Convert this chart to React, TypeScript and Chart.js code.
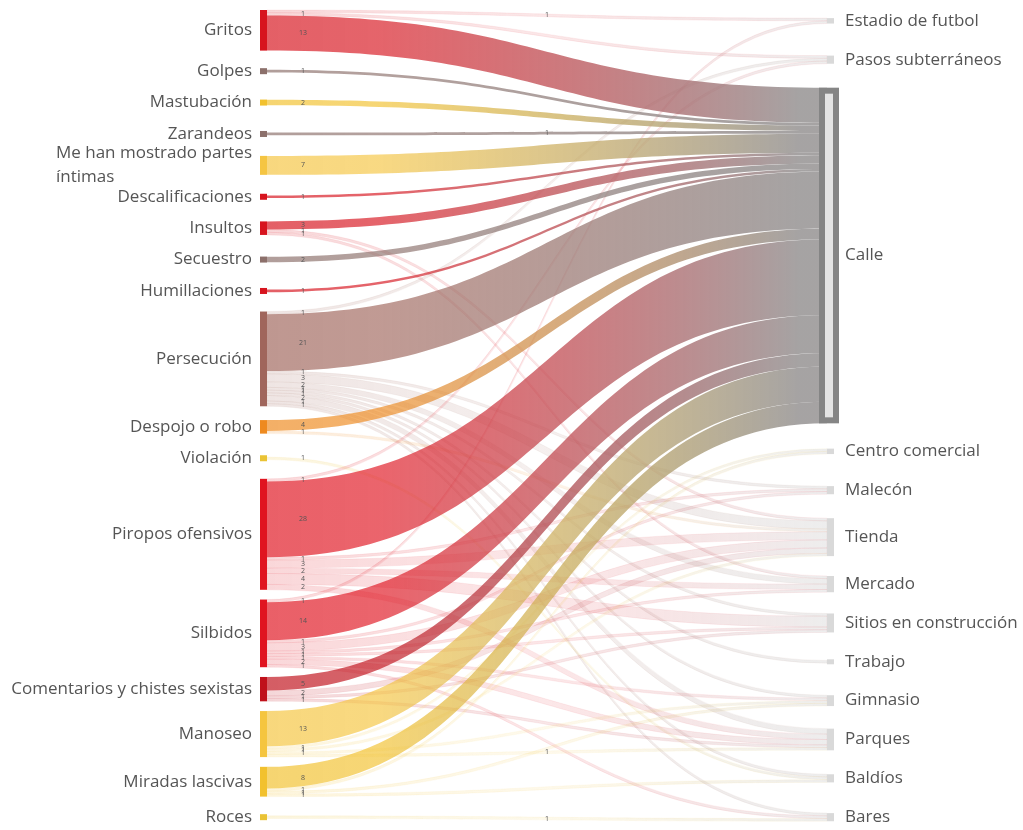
import { useEffect, useRef } from "react";
import { Chart, registerables } from "chart.js";
Chart.register(...registerables);

const ME_HAN = "Me han mostrado partes\níntimas";
const COMENT = "Comentarios y chistes sexistas";

const sourceLabels = [
  "Gritos", "Golpes", "Mastubación", "Zarandeos", ME_HAN, "Descalificaciones",
  "Insultos", "Secuestro", "Humillaciones", "Persecución", "Despojo o robo",
  "Violación", "Piropos ofensivos", "Silbidos", COMENT, "Manoseo",
  "Miradas lascivas", "Roces",
];

const targetLabels = [
  "Estadio de futbol", "Pasos subterráneos", "Calle", "Centro comercial", "Malecón",
  "Tienda", "Mercado", "Sitios en construcción", "Trabajo", "Gimnasio", "Parques",
  "Baldíos", "Bares",
];

const flowSource = [
  "Gritos", "Gritos", "Gritos",
  "Golpes", "Mastubación", "Zarandeos", ME_HAN, "Descalificaciones",
  "Insultos", "Insultos", "Insultos",
  "Secuestro", "Humillaciones",
  "Persecución", "Persecución", "Persecución", "Persecución", "Persecución", "Persecución",
  "Persecución", "Persecución", "Persecución", "Persecución", "Persecución",
  "Despojo o robo", "Despojo o robo",
  "Violación",
  "Piropos ofensivos", "Piropos ofensivos", "Piropos ofensivos", "Piropos ofensivos",
  "Piropos ofensivos", "Piropos ofensivos", "Piropos ofensivos",
  "Silbidos", "Silbidos", "Silbidos", "Silbidos", "Silbidos", "Silbidos", "Silbidos",
  "Silbidos", "Silbidos",
  COMENT, COMENT, COMENT, COMENT,
  "Manoseo", "Manoseo", "Manoseo", "Manoseo", "Manoseo",
  "Miradas lascivas", "Miradas lascivas", "Miradas lascivas", "Miradas lascivas",
  "Roces",
];

const flowTarget = [
  "Estadio de futbol", "Pasos subterráneos", "Calle",
  "Calle", "Calle", "Calle", "Calle", "Calle",
  "Calle", "Tienda", "Mercado",
  "Calle", "Calle",
  "Pasos subterráneos", "Calle", "Malecón", "Tienda", "Mercado", "Sitios en construcción",
  "Trabajo", "Gimnasio", "Parques", "Baldíos", "Bares",
  "Calle", "Tienda",
  "Baldíos",
  "Pasos subterráneos", "Calle", "Malecón", "Tienda", "Mercado", "Sitios en construcción", "Parques",
  "Estadio de futbol", "Calle", "Malecón", "Tienda", "Mercado", "Sitios en construcción",
  "Gimnasio", "Parques", "Bares",
  "Calle", "Tienda", "Sitios en construcción", "Parques",
  "Calle", "Centro comercial", "Tienda", "Gimnasio", "Parques",
  "Calle", "Centro comercial", "Gimnasio", "Baldíos",
  "Bares",
];

const flowValue = [
  1, 1, 13,
  1, 2, 1, 7, 1,
  3, 1, 1,
  2, 1,
  1, 21, 1, 3, 2, 1, 1, 1, 2, 1, 1,
  4, 1,
  1,
  1, 28, 1, 3, 2, 4, 2,
  1, 14, 1, 3, 1, 1, 1, 2, 1,
  5, 2, 1, 1,
  13, 1, 1, 1, 1,
  8, 1, 1, 1,
  1,
];

// styles
const sourceColors = [
  "#d7141e", "#8c706b", "#f2c12e", "#8c706b", "#f5c542", "#d7141e",
  "#d7141e", "#8c706b", "#d7141e", "#a0665c", "#ee8a1f",
  "#eac335", "#e01420", "#e01420", "#c0111b", "#f5c53f",
  "#f2c12e", "#eac335",
];
const SELECTED = "Calle";
const FONT = '"Open Sans", "Noto Sans", sans-serif';

function rgba(hex: string, a: number) {
  const n = parseInt(hex.slice(1), 16);
  return `rgba(${(n >> 16) & 255},${(n >> 8) & 255},${n & 255},${a})`;
}

export default function App() {
  const canvasRef = useRef<HTMLCanvasElement | null>(null);

  useEffect(() => {
    const canvas = canvasRef.current;
    if (!canvas) return;

    const total = (labels: string[], keys: string[]) =>
      labels.map((s) => flowValue.reduce((a, v, i) => a + (keys[i] === s ? v : 0), 0));
    const srcTot = total(sourceLabels, flowSource);
    const tgtTot = total(targetLabels, flowTarget);

    const SLOT = 8;
    const MIN_GAP = 3.6;
    const effSum = (arr: number[]) => arr.reduce((a, v) => a + Math.max(v, SLOT), 0);
    const yMax = Math.max(
      effSum(srcTot) + (srcTot.length - 1) * MIN_GAP,
      effSum(tgtTot) + (tgtTot.length - 1) * MIN_GAP
    );
    const place = (tot: number[]) => {
      const gap = (yMax - effSum(tot)) / (tot.length - 1);
      let y = 0;
      return tot.map((v) => {
        const e = Math.max(v, SLOT);
        const c = y + e / 2;
        y += e + gap;
        return { top: c - v / 2, center: c, value: v };
      });
    };
    const srcNodes = place(srcTot);
    const tgtNodes = place(tgtTot);

    type L = { s: number; t: number; v: number; sy0: number; ty0: number };
    const links: L[] = flowValue.map((v, i) => ({
      s: sourceLabels.indexOf(flowSource[i]),
      t: targetLabels.indexOf(flowTarget[i]),
      v,
      sy0: 0,
      ty0: 0,
    }));
    const sOff = srcNodes.map((n) => n.top);
    const tOff = tgtNodes.map((n) => n.top);
    [...links].sort((a, b) => a.s - b.s || a.t - b.t).forEach((l) => {
      l.sy0 = sOff[l.s];
      sOff[l.s] += l.v;
    });
    [...links].sort((a, b) => a.t - b.t || a.s - b.s).forEach((l) => {
      l.ty0 = tOff[l.t];
      tOff[l.t] += l.v;
    });
    const selIdx = targetLabels.indexOf(SELECTED);

    const sankeyPlugin = {
      id: "sankeyDraw",
      afterDatasetsDraw(chart: any) {
        const ctx: CanvasRenderingContext2D = chart.ctx;
        const xs = chart.scales.x;
        const ys = chart.scales.y;
        const NODE_W = 7;
        const xL = xs.getPixelForValue(0);
        const xR = xs.getPixelForValue(1);
        const x0 = xL + NODE_W;
        const x1 = xR;
        const xm = (x0 + x1) / 2;
        const py = (v: number) => ys.getPixelForValue(v);

        ctx.save();
        const drawLink = (l: L, hi: boolean) => {
          const a0 = py(l.sy0), a1 = py(l.sy0 + l.v);
          const b0 = py(l.ty0), b1 = py(l.ty0 + l.v);
          const g = ctx.createLinearGradient(x0, 0, x1, 0);
          const col = sourceColors[l.s];
          if (hi) {
            g.addColorStop(0, rgba(col, 0.68));
            g.addColorStop(0.2, rgba(col, 0.66));
            g.addColorStop(0.95, "rgba(150,147,147,0.85)");
            g.addColorStop(1, "rgba(150,147,147,0.85)");
          } else {
            g.addColorStop(0, rgba(col, 0.17));
            g.addColorStop(0.5, rgba(col, 0.1));
            g.addColorStop(1, "rgba(175,175,175,0.22)");
          }
          ctx.beginPath();
          ctx.moveTo(x0, a0);
          ctx.bezierCurveTo(xm, a0, xm, b0, x1, b0);
          ctx.lineTo(x1, b1);
          ctx.bezierCurveTo(xm, b1, xm, a1, x0, a1);
          ctx.closePath();
          ctx.fillStyle = g;
          ctx.fill();
          if (!hi) {
            ctx.strokeStyle = rgba(col, 0.1);
            ctx.lineWidth = 0.6;
            ctx.stroke();
          }
        };
        links.filter((l) => l.t !== selIdx).forEach((l) => drawLink(l, false));
        links.filter((l) => l.t === selIdx).forEach((l) => drawLink(l, true));

        // nodes
        srcNodes.forEach((n, i) => {
          const h = Math.max(py(n.top + n.value) - py(n.top), 6);
          const c = py(n.center);
          ctx.fillStyle = sourceColors[i];
          ctx.fillRect(xL, c - h / 2, NODE_W, h);
        });
        tgtNodes.forEach((n, i) => {
          const h = Math.max(py(n.top + n.value) - py(n.top), 5);
          const c = py(n.center);
          if (i === selIdx) {
            ctx.fillStyle = "#858585";
            ctx.fillRect(xR - 8, c - h / 2, 20, h);
            ctx.fillStyle = "#e4e4e4";
            ctx.fillRect(xR - 2, c - h / 2 + 6, 8, h - 12);
          } else {
            ctx.fillStyle = "#d9d9d9";
            ctx.fillRect(xR, c - h / 2, NODE_W, h);
          }
        });

        // link value labels
        ctx.font = `7px ${FONT}`;
        ctx.fillStyle = "#555";
        ctx.textAlign = "center";
        ctx.textBaseline = "middle";
        links.forEach((l) => {
          const a = py(l.sy0 + l.v / 2);
          const b = py(l.ty0 + l.v / 2);
          if (Math.abs(a - b) < 14) {
            ctx.fillText(String(l.v), xm, (a + b) / 2);
          } else {
            ctx.fillText(String(l.v), x0 + 36, a);
          }
        });

        // node labels
        ctx.font = `17px ${FONT}`;
        ctx.fillStyle = "#555";
        ctx.textBaseline = "middle";
        srcNodes.forEach((n, i) => {
          const lines = sourceLabels[i].split("\n");
          const c = py(n.center);
          if (lines.length === 1) {
            ctx.textAlign = "right";
            ctx.fillText(lines[0], xL - 8, c);
          } else {
            const w = Math.max(...lines.map((s) => ctx.measureText(s).width));
            ctx.textAlign = "left";
            lines.forEach((s, k) => {
              ctx.fillText(s, xL - 8 - w, c + (k - (lines.length - 1) / 2) * 24);
            });
          }
        });
        ctx.textAlign = "left";
        tgtNodes.forEach((n, i) => {
          ctx.fillText(targetLabels[i], xR + NODE_W + 11, py(n.center));
        });
        ctx.restore();
      },
    };

    const chart = new Chart(canvas, {
      type: "scatter",
      data: { datasets: [{ data: [] }] },
      options: {
        animation: false,
        responsive: false,
        events: [],
        layout: { padding: { left: 260, right: 196, top: 10, bottom: 2 } },
        scales: {
          x: { type: "linear", min: 0, max: 1, display: false },
          y: { type: "linear", min: 0, max: yMax, reverse: true, display: false },
        },
        plugins: { legend: { display: false }, tooltip: { enabled: false } },
      },
      plugins: [sankeyPlugin],
    } as any);
    return () => chart.destroy();
  }, []);

  return (
    <div style={{ position: "absolute", left: 0, top: 0, width: 1023, height: 830, background: "#fff" }}>
      <canvas ref={canvasRef} width={1023} height={830} style={{ display: "block" }} />
    </div>
  );
}
